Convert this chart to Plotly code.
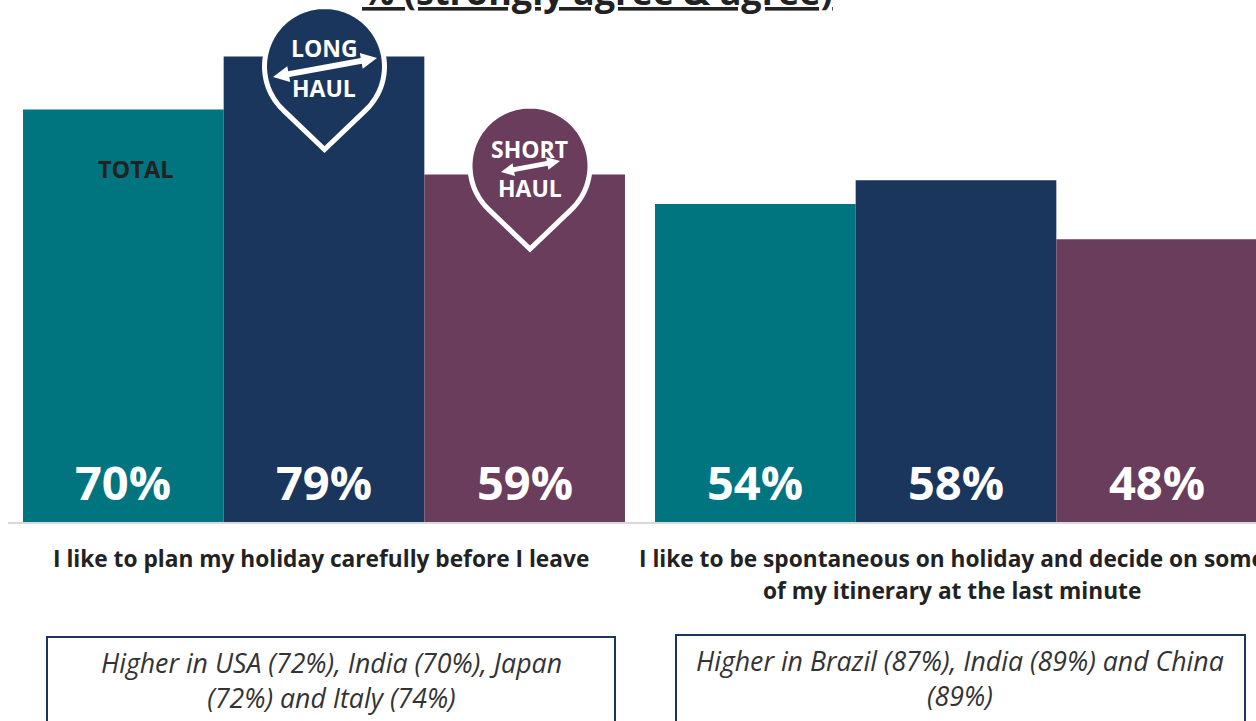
import math
import plotly.graph_objects as go

W, H = 1256, 721
series_names = ["TOTAL", "LONG HAUL", "SHORT HAUL"]
total = [70, 54]
long_haul = [79, 58]
short_haul = [59, 48]
colors = ["#00757F", "#1B365D", "#6A3D5D"]
categories = ["I like to plan my holiday carefully before I leave",
              "I like to be spontaneous on holiday and decide on some<br>of my itinerary at the last minute"]
notes = ["Higher in USA (72%), India (70%), Japan<br>(72%) and Italy (74%)",
         "Higher in Brazil (87%), India (89%) and China<br>(89%)"]
title = "% (strongly agree & agree)"

FONT = "Open Sans"
DARK = "#222222"
PX_PER_UNIT = 5.9
BASE_PX = 522.5
STEP = 632.0
C0 = 324.0
GAP = 0.0475
bw = (1 - GAP) / 3

def px(x): return x / W
def py(y): return 1 - y / H

fig = go.Figure()
for name, vals, col in zip(series_names, [total, long_haul, short_haul], colors):
    fig.add_bar(x=[0, 1], y=vals, name=name, marker=dict(color=col, line=dict(width=0)),
                showlegend=False, hoverinfo="skip")

shapes = []
annos = []

shapes.append(dict(type="line", xref="paper", yref="paper", x0=px(8), x1=px(W), y0=py(523), y1=py(523),
                   line=dict(color="#D9D9D9", width=2)))
for x0, x1, top in [(47, 615, 637), (676, 1245, 635)]:
    shapes.append(dict(type="rect", xref="paper", yref="paper", x0=px(x0), x1=px(x1), y0=py(top), y1=py(760),
                       line=dict(color="#1B365D", width=2), fillcolor="white"))

def pin_path(cx, cy, r, tip):
    d = tip - cy
    th = math.acos(r / d)
    pts = []
    n = 72
    start = math.pi / 2 + th
    end = math.pi / 2 - th + 2 * math.pi
    for i in range(n + 1):
        a = start + (end - start) * i / n
        pts.append((cx + r * math.cos(a), cy + r * math.sin(a)))
    pts.append((cx, tip))
    return "M " + " L ".join(f"{px(x):.5f},{py(y):.5f}" for x, y in pts) + " Z"

def arrow_path(x0, y0, x1, y1, shaft, head_w, head_l):
    L = math.hypot(x1 - x0, y1 - y0)
    ux, uy = (x1 - x0) / L, (y1 - y0) / L
    nx, ny = -uy, ux
    def p(a, b): return (x0 + ux * a + nx * b, y0 + uy * a + ny * b)
    pts = [p(0, 0), p(head_l, -head_w), p(head_l, -shaft), p(L - head_l, -shaft), p(L - head_l, -head_w),
           p(L, 0), p(L - head_l, head_w), p(L - head_l, shaft), p(head_l, shaft), p(head_l, head_w)]
    return "M " + " L ".join(f"{px(x):.5f},{py(y):.5f}" for x, y in pts) + " Z"

for cx, cy, tip, col in [(324.5, 66.5, 149.5, colors[1]), (530, 166, 249, colors[2])]:
    shapes.append(dict(type="path", xref="paper", yref="paper", path=pin_path(cx, cy, 60, tip),
                       fillcolor=col, line=dict(color="white", width=5)))
shapes.append(dict(type="path", xref="paper", yref="paper", path=arrow_path(273, 77, 377, 58, 3, 8, 16),
                   fillcolor="white", line=dict(width=0)))
shapes.append(dict(type="path", xref="paper", yref="paper", path=arrow_path(501, 172, 560, 161, 2.5, 6.5, 13),
                   fillcolor="white", line=dict(width=0)))

def text(x, y, s, size, color=DARK, bold=False, italic=False):
    s = f"<b>{s}</b>" if bold else s
    s = f"<i>{s}</i>" if italic else s
    annos.append(dict(xref="paper", yref="paper", x=px(x), y=py(y), text=s,
                      showarrow=False, xanchor="center", yanchor="middle", align="center",
                      font=dict(family=FONT, size=size, color=color)))

for k, vals in enumerate([total, long_haul, short_haul]):
    for i, v in enumerate(vals):
        annos.append(dict(xref="x", yref="y", x=i + (k - 1) * bw, y=6.8, text=f"<b>{v}%</b>", showarrow=False,
                          xanchor="center", yanchor="middle", font=dict(family=FONT, size=47, color="white")))

text(135, 168.5, "TOTAL", 23.5, bold=True)
text(324, 48, "LONG", 23, "white", True)
text(324, 88.5, "HAUL", 23, "white", True)
text(529, 148.5, "SHORT", 23, "white", True)
text(530, 188, "HAUL", 23, "white", True)
text(321, 558.5, categories[0], 22.7, bold=True)
line1, line2 = categories[1].split("<br>")
text(952, 558.5, line1, 22.7, bold=True)
text(952, 590.5, line2, 22.7, bold=True)
text(331, 680, notes[0], 26.7, "#333333", italic=True)
text(960, 678, notes[1], 26.7, "#333333", italic=True)
text(597, -9, f"<u>{title}</u>", 36, bold=True)

fig.update_layout(
    width=W, height=H, margin=dict(l=0, r=0, t=0, b=0), paper_bgcolor="white", plot_bgcolor="white",
    barmode="group", bargap=GAP, bargroupgap=0,
    xaxis=dict(range=[-C0 / STEP, (W - C0) / STEP], visible=False, fixedrange=True),
    yaxis=dict(range=[(BASE_PX - H) / PX_PER_UNIT, BASE_PX / PX_PER_UNIT], visible=False, fixedrange=True),
    shapes=shapes, annotations=annos,
)
fig.write_html("out.html", config=dict(displayModeBar=False),
               post_script="document.body.style.margin='0';document.body.style.overflow='hidden';")
